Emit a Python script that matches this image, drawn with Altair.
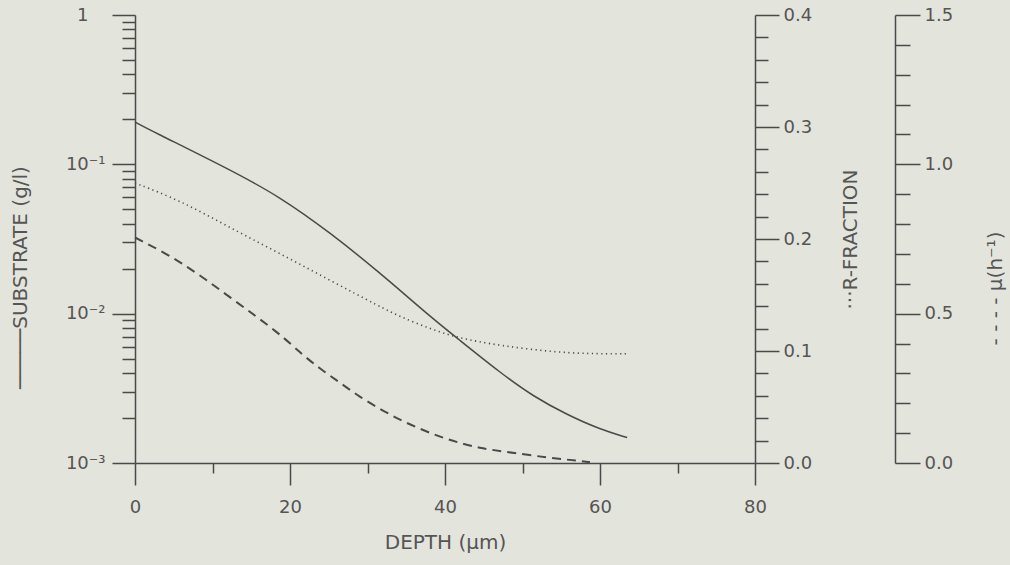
import altair as alt
import pandas as pd

# ---- data ----
depth_sub = [0, 1.9, 12.3, 18.7, 25.2, 31.6, 38.1, 41.5, 47.1, 51.4, 55.7, 60.0, 63.5]
substrate = [0.192, 0.170, 0.0919, 0.0606, 0.0348, 0.0188, 0.00955, 0.0069, 0.00403,
             0.00279, 0.00211, 0.00168, 0.00148]

depth_r = [0, 5.8, 12.3, 18.7, 25.2, 31.6, 34.2, 38.1, 41.5, 47.1, 54.8, 60.0, 63.6]
r_fraction = [0.250, 0.2345, 0.210, 0.187, 0.163, 0.1396, 0.1306, 0.1199, 0.1119,
              0.1047, 0.0984, 0.0975, 0.0975]

depth_mu = [0, 5.8, 12.3, 18.7, 21.3, 23.9, 26.5, 29.0, 31.6, 34.2, 36.8, 39.4, 41.9,
            44.5, 47.1, 53.5, 57.4, 58.7]
mu = [0.755, 0.678, 0.554, 0.433, 0.369, 0.315, 0.268, 0.221, 0.181, 0.144, 0.114,
      0.087, 0.067, 0.050, 0.040, 0.017, 0.007, 0.003]

# ---- axis ticks ----
x_ticks = [0, 10, 20, 30, 40, 50, 60, 70, 80]
log_decades = [0.001, 0.01, 0.1]
log_mults = [1, 2, 3, 4, 5, 6, 7, 8, 9]
log_ticks = [round(d * m, 6) for d in log_decades for m in log_mults] + [1]
r_ticks = [round(i * 0.02, 2) for i in range(21)]
mu_ticks = [round(i * 0.1, 1) for i in range(16)]

INK = "#4a4a4a"
TXT = "#555555"
FONT = "DejaVu Sans"

common = dict(
    grid=False, domainColor=INK, domainWidth=1.5, tickColor=INK, tickWidth=1.5,
    labelColor=TXT, labelFont=FONT, labelFontSize=18, titleColor=TXT, titleFont=FONT,
    titleFontSize=20, titleFontWeight="normal", labelFlush=False, labelOverlap=False,
)

df_s = pd.DataFrame({"depth": depth_sub, "val": substrate})
df_r = pd.DataFrame({"depth": depth_r, "val": r_fraction})
df_m = pd.DataFrame({"depth": depth_mu, "val": mu})

xscale = alt.Scale(domain=[0, 80], nice=False)

x_axis = alt.Axis(
    values=x_ticks, title="DEPTH (\u03bcm)",
    labelExpr="datum.value % 20 == 0 ? datum.label : ''",
    tickSize={"condition": {"test": "datum.value % 20 == 0", "value": 22}, "value": 10},
    labelPadding=13, titlePadding=16, **common,
)

sub_axis = alt.Axis(
    orient="left", values=log_ticks,
    title="\u2500\u2500\u2500\u2500\u2500SUBSTRATE (g/l)",
    labelExpr="datum.value == 1 ? '1' : datum.value == 0.1 ? '10\u207b\u00b9' : datum.value == 0.01 ? '10\u207b\u00b2' : datum.value == 0.001 ? '10\u207b\u00b3' : ''",
    tickSize={"condition": {"test": "indexof([1, 0.1, 0.01, 0.001], datum.value) >= 0", "value": 23}, "value": 13},
    labelPadding={"condition": {"test": "datum.value == 1", "value": 24}, "value": 7},
    titleX=-115, titleY=262, titleAngle=270, titleAlign="center", titleBaseline="middle",
    **common,
)

r_axis = alt.Axis(
    orient="right", values=r_ticks, title="\u00b7\u00b7\u00b7R-FRACTION",
    labelExpr="abs(datum.value*10 - round(datum.value*10)) < 1e-6 ? format(datum.value, '.1f') : ''",
    tickSize={"condition": {"test": "abs(datum.value*10 - round(datum.value*10)) < 1e-6", "value": 24}, "value": 13},
    labelPadding=4,
    titleX=95, titleY=224, titleAngle=270, titleAlign="center", titleBaseline="middle",
    **common,
)

mu_axis = alt.Axis(
    orient="right", offset=140, values=mu_ticks,
    title="- - - -  \u03bc(h\u207b\u00b9)",
    labelExpr="abs(datum.value*2 - round(datum.value*2)) < 1e-6 ? format(datum.value, '.1f') : ''",
    tickSize={"condition": {"test": "abs(datum.value*2 - round(datum.value*2)) < 1e-6", "value": 25}, "value": 15},
    labelPadding=4,
    titleX=100, titleY=273, titleAngle=270, titleAlign="center", titleBaseline="middle",
    **common,
)

sub_line = alt.Chart(df_s).mark_line(color=INK, strokeWidth=1.5, interpolate="basis").encode(
    x=alt.X("depth:Q", scale=xscale, axis=x_axis),
    y=alt.Y("val:Q", scale=alt.Scale(type="log", domain=[0.001, 1], nice=False), axis=sub_axis),
)

r_line = alt.Chart(df_r).mark_line(color=INK, strokeWidth=1.6, strokeDash=[1.2, 3.5],
                                   interpolate="basis").encode(
    x=alt.X("depth:Q", scale=xscale),
    y=alt.Y("val:Q", scale=alt.Scale(domain=[0, 0.4], nice=False), axis=r_axis),
)

mu_line = alt.Chart(df_m).mark_line(color=INK, strokeWidth=2, strokeDash=[9, 6],
                                    interpolate="basis").encode(
    x=alt.X("depth:Q", scale=xscale),
    y=alt.Y("val:Q", scale=alt.Scale(domain=[0, 1.5], nice=False), axis=mu_axis),
)

chart = alt.layer(sub_line, r_line, mu_line).resolve_scale(y="independent").properties(
    width=620, height=448,
    autosize=alt.AutoSizeParams(type="none"),
    padding={"left": 135, "top": 15, "right": 255, "bottom": 102},
    background="#e3e4dc",
).configure_view(stroke=None)

chart.save("out.html", embed_options={"renderer": "svg", "actions": False})
